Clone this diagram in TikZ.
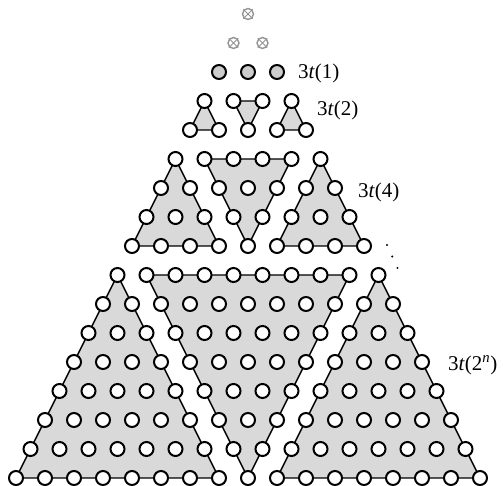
\documentclass[tikz,border=0pt]{standalone}
\usepackage{fontspec}
\setmainfont{Liberation Serif}
\usetikzlibrary{backgrounds}

\begin{document}
\begin{tikzpicture}[
  x=1pt, y=1pt,
  dot/.style={circle, draw, line width=2pt, fill=white,
              minimum size=14pt, inner sep=0pt},
  seed/.style={dot, fill=black!20},
  gx/.style={draw=black!42, line width=1pt},
  gone/.style={circle, draw=black!42, line width=1.4pt, minimum size=11pt,
              inner sep=0pt,
              append after command={(\tikzlastnode.center) +(45:6.6) edge[gx] +(225:6.6)
                                    +(135:6.6) edge[gx] +(-45:6.6)}},
  tri/.style={fill=black!15, draw, line width=1.4pt, line join=round},
  lab/.style={anchor=west, inner sep=0pt, font=\fontsize{21}{24}\selectfont},
]
\useasboundingbox (0,0) rectangle (503,486);

% ---------- lattice points, row k has k points ----------
\foreach \k in {1,...,17} {
  \pgfmathtruncatemacro{\last}{\k-1}
  \foreach \j in {0,...,\last} {
    \ifnum\k<3
      \node[gone] (p-\k-\j) at ({248+(\j-(\k-1)/2)*29}, {472-(\k-1)*29}) {};
    \else\ifnum\k=3
      \node[seed] (p-\k-\j) at ({248+(\j-(\k-1)/2)*29}, {472-(\k-1)*29}) {};
    \else
      \node[dot] (p-\k-\j) at ({248+(\j-(\k-1)/2)*29}, {472-(\k-1)*29}) {};
    \fi\fi
  }
}

% ---------- three triangles per block of side m ----------
\begin{scope}[on background layer]
\foreach \m in {2,4,8} {
  \pgfmathtruncatemacro{\a}{\m+2}
  \pgfmathtruncatemacro{\b}{2*\m+1}
  \pgfmathtruncatemacro{\c}{\m-1}
  \pgfmathtruncatemacro{\d}{\m+1}
  \pgfmathtruncatemacro{\e}{2*\m}
  \filldraw[tri] (p-\a-0.center) -- (p-\b-0.center) -- (p-\b-\c.center) -- cycle;
  \filldraw[tri] (p-\a-1.center) -- (p-\a-\m.center) -- (p-\b-\m.center) -- cycle;
  \filldraw[tri] (p-\a-\d.center) -- (p-\b-\d.center) -- (p-\b-\e.center) -- cycle;
}
\end{scope}

% ---------- labels ----------
\node[lab] (l1) at (298,413) {3\textit{t}(1)};
\node[lab] (l2) at (317,376) {3\textit{t}(2)};
\node[lab] (l4) at (358,294) {3\textit{t}(4)};
\node[lab] (ln) at (448,121) {3\textit{t}(2\textsuperscript{\textit{n}})};
\foreach \s in {0,1,2}
  \fill ({387+5.2*\s}, {241-11.5*\s}) circle (1.1pt);

\end{tikzpicture}
\end{document}
